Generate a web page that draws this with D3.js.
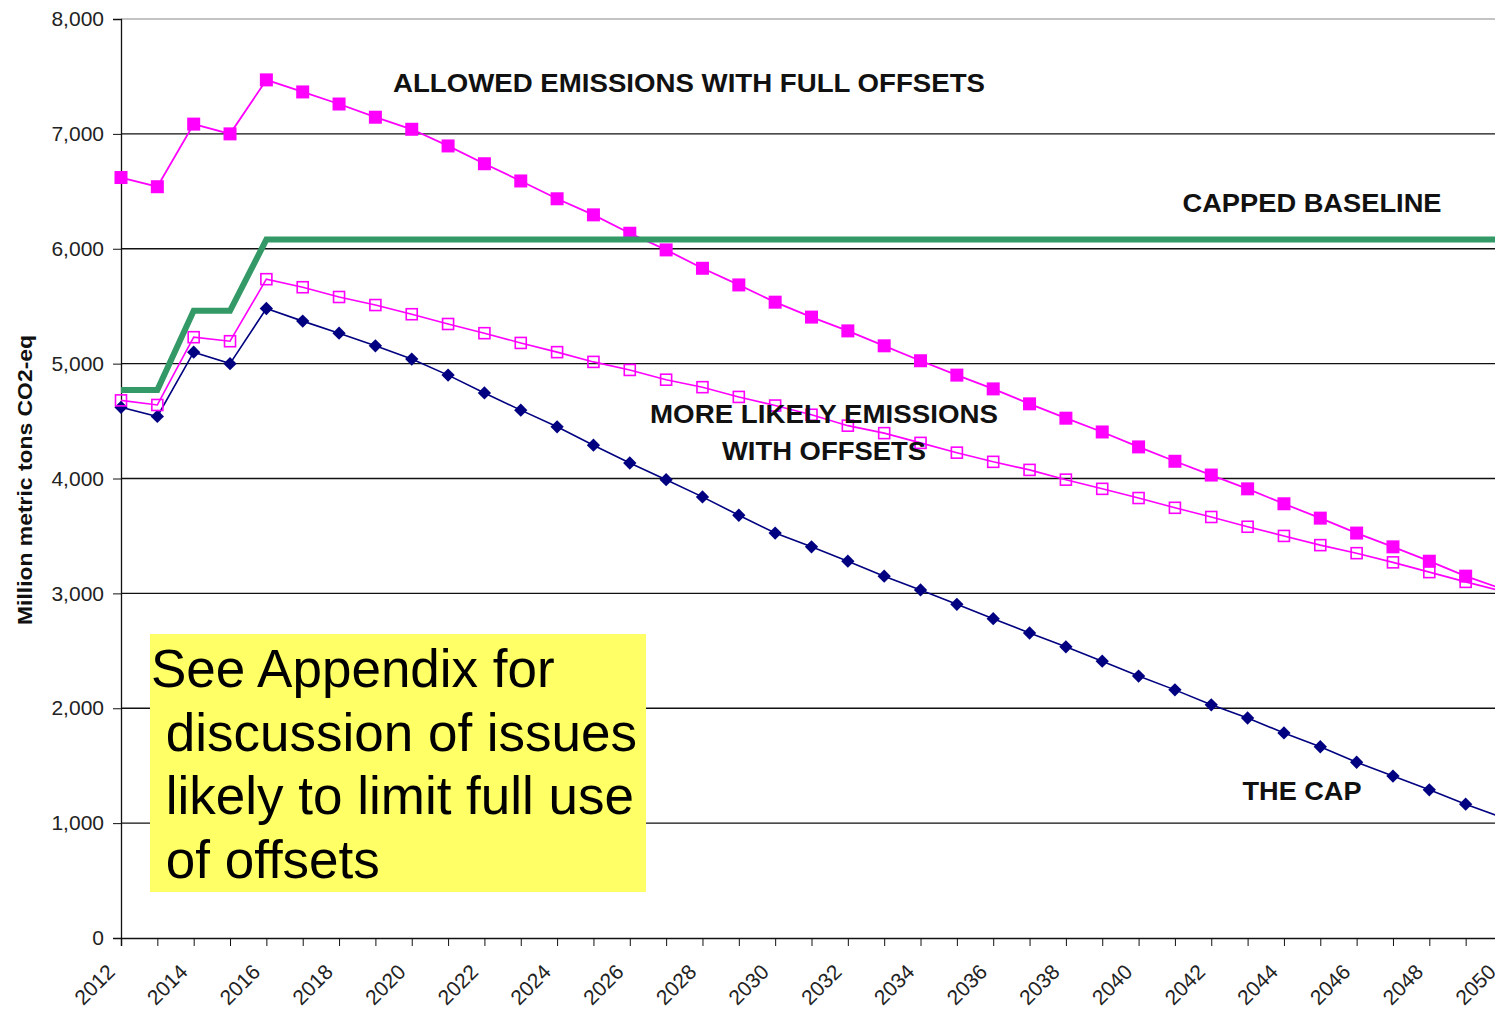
<!DOCTYPE html>
<html>
<head>
<meta charset="utf-8">
<script src="https://cdn.jsdelivr.net/npm/d3@7"></script>
<style>
  body { margin: 0; background: #fff; }
  svg { display: block; font-family: Arial, "Liberation Sans", sans-serif; }
</style>
</head>
<body>
<div id="chart"></div>
<script>
// years on the x axis, one point per year
var years = [2012, 2013, 2014, 2015, 2016, 2017, 2018, 2019, 2020, 2021, 2022, 2023, 2024,
             2025, 2026, 2027, 2028, 2029, 2030, 2031, 2032, 2033, 2034, 2035, 2036, 2037,
             2038, 2039, 2040, 2041, 2042, 2043, 2044, 2045, 2046, 2047, 2048, 2049, 2050];

var yearLabels = [2012, 2014, 2016, 2018, 2020, 2022, 2024, 2026, 2028, 2030, 2032, 2034,
                  2036, 2038, 2040, 2042, 2044, 2046, 2048, 2050];

var yTicks = [0, 1000, 2000, 3000, 4000, 5000, 6000, 7000, 8000];

// Million metric tons CO2-eq
var fullOffsets = [6620, 6540, 7085, 7000, 7470, 7365, 7260, 7145, 7040, 6895,
                   6740, 6590, 6435, 6295, 6135, 5990, 5830, 5685, 5535, 5405,
                   5285, 5155, 5025, 4900, 4780, 4650, 4525, 4405, 4275, 4150,
                   4030, 3910, 3780, 3655, 3525, 3405, 3280, 3150, 3040];

var cappedBaseline = [4770, 4770, 5460, 5460, 6080, 6080, 6080, 6080, 6080, 6080,
                      6080, 6080, 6080, 6080, 6080, 6080, 6080, 6080, 6080, 6080,
                      6080, 6080, 6080, 6080, 6080, 6080, 6080, 6080, 6080, 6080,
                      6080, 6080, 6080, 6080, 6080, 6080, 6080, 6080, 6080];

var moreLikely = [4680, 4640, 5230, 5195, 5735, 5665, 5580, 5510, 5430, 5345,
                  5265, 5180, 5100, 5015, 4945, 4860, 4795, 4710, 4635, 4555,
                  4460, 4395, 4310, 4225, 4145, 4075, 3990, 3910, 3830, 3745,
                  3665, 3580, 3500, 3420, 3350, 3270, 3185, 3100, 3020];

var theCap = [4620, 4540, 5100, 5000, 5480, 5370, 5265, 5155, 5040, 4900,
              4745, 4595, 4450, 4290, 4135, 3990, 3840, 3680, 3525, 3405,
              3280, 3150, 3030, 2905, 2780, 2655, 2535, 2410, 2280, 2160,
              2030, 1915, 1785, 1665, 1530, 1410, 1290, 1165, 1050];

var noteLines = ["See Appendix for", " discussion of issues", " likely to limit full use", " of offsets"];

var width = 1495, height = 1013;
var plotLeft = 121, plotRight = 1502, plotTop = 19, plotBottom = 938;

var svg = d3.select("#chart").append("svg")
    .attr("width", width)
    .attr("height", height)
    .style("overflow", "hidden");

var x = d3.scaleLinear().domain([2012, 2050]).range([plotLeft, plotRight]);
var y = d3.scaleLinear().domain([0, 8000]).range([plotBottom, plotTop]);

// gridlines
svg.append("g")
    .selectAll("line")
    .data(yTicks.filter(function(d){ return d > 0; }))
    .enter().append("line")
    .attr("x1", plotLeft)
    .attr("x2", plotRight)
    .attr("y1", function(d){ return y(d); })
    .attr("y2", function(d){ return y(d); })
    .attr("stroke", function(d){ return d == 8000 ? "#888" : "#111"; })
    .attr("stroke-width", function(d){ return d == 8000 ? 1 : 1.3; });

// y axis
var yAxis = svg.append("g")
    .attr("transform", "translate(" + plotLeft + ",0)")
    .call(d3.axisLeft(y).tickValues(yTicks).tickSize(8).tickPadding(9).tickFormat(d3.format(",")));
yAxis.select(".domain").attr("stroke", "#111").attr("stroke-width", 1.3);
yAxis.selectAll(".tick line").attr("stroke", "#111");
yAxis.selectAll("text")
    .attr("font-size", "21px")
    .attr("font-family", "Arial, 'Liberation Sans', sans-serif")
    .attr("fill", "#222");

// x axis
var xAxis = svg.append("g")
    .attr("transform", "translate(0," + plotBottom + ")")
    .call(d3.axisBottom(x).tickValues(years).tickSize(8).tickFormat(""));
xAxis.select(".domain").attr("stroke", "#111").attr("stroke-width", 1.5);
xAxis.selectAll(".tick line").attr("stroke", "#111");

svg.append("g")
    .selectAll("text")
    .data(yearLabels)
    .enter().append("text")
    .attr("transform", function(d){ return "translate(" + (x(d) - 10) + "," + (plotBottom + 30) + ") rotate(-45)"; })
    .attr("text-anchor", "end")
    .attr("dy", "0.35em")
    .attr("font-size", "21px")
    .attr("fill", "#222")
    .text(function(d){ return d; });

// y axis title
svg.append("text")
    .attr("transform", "translate(32,480) rotate(-90)")
    .attr("text-anchor", "middle")
    .attr("font-size", "20px")
    .attr("font-weight", "bold")
    .attr("textLength", 290)
    .attr("lengthAdjust", "spacingAndGlyphs")
    .attr("fill", "#111")
    .text("Million metric tons CO2-eq");

function drawLine(values, color, lineWidth) {
    var line = d3.line()
        .x(function(d, i){ return x(years[i]); })
        .y(function(d){ return y(d); });
    svg.append("path")
        .datum(values)
        .attr("d", line)
        .attr("fill", "none")
        .attr("stroke", color)
        .attr("stroke-width", lineWidth)
        .attr("stroke-linejoin", "miter");
}

function drawSquares(values, size, filled, color) {
    svg.append("g")
        .selectAll("rect")
        .data(values.slice(0, values.length - 1))
        .enter().append("rect")
        .attr("x", function(d, i){ return x(years[i]) - size/2; })
        .attr("y", function(d){ return y(d) - size/2; })
        .attr("width", size)
        .attr("height", size)
        .attr("fill", filled ? color : "none")
        .attr("stroke", color)
        .attr("stroke-width", filled ? 0 : 1.6);
}

function drawDiamonds(values, size, color) {
    var sym = d3.symbol().type(d3.symbolDiamond2).size(size * size / 2);
    svg.append("g")
        .selectAll("path")
        .data(values.slice(0, values.length - 1))
        .enter().append("path")
        .attr("transform", function(d, i){ return "translate(" + x(years[i]) + "," + y(d) + ")"; })
        .attr("d", sym())
        .attr("fill", color);
}

drawLine(theCap, "#000080", 1.6);
drawDiamonds(theCap, 15, "#000080");

drawLine(moreLikely, "#ff00ff", 1.6);
drawSquares(moreLikely, 11, false, "#ff00ff");

drawLine(fullOffsets, "#ff00ff", 1.8);
drawSquares(fullOffsets, 13, true, "#ff00ff");

drawLine(cappedBaseline, "#339966", 6);

// series annotations
function annotate(txt, cx, baseY, len) {
    svg.append("text")
        .attr("x", cx)
        .attr("y", baseY)
        .attr("text-anchor", "middle")
        .attr("font-size", "26px")
        .attr("font-weight", "bold")
        .attr("textLength", len)
        .attr("lengthAdjust", "spacingAndGlyphs")
        .attr("fill", "#111")
        .text(txt);
}

annotate("ALLOWED EMISSIONS WITH FULL OFFSETS", 689, 92, 592);
annotate("CAPPED BASELINE", 1312, 212, 259);
annotate("MORE LIKELY EMISSIONS", 824, 423, 348);
annotate("WITH OFFSETS", 824, 460, 204);
annotate("THE CAP", 1302, 800, 119);

// appendix note box
svg.append("rect")
    .attr("x", 150)
    .attr("y", 634)
    .attr("width", 496)
    .attr("height", 258)
    .attr("fill", "#ffff66");

svg.append("g")
    .selectAll("text")
    .data(noteLines)
    .enter().append("text")
    .attr("x", 151)
    .attr("y", function(d, i){ return 687 + i * 63.5; })
    .attr("font-size", "53px")
    .attr("fill", "#000")
    .style("white-space", "pre")
    .text(function(d){ return d; });
</script>
</body>
</html>
